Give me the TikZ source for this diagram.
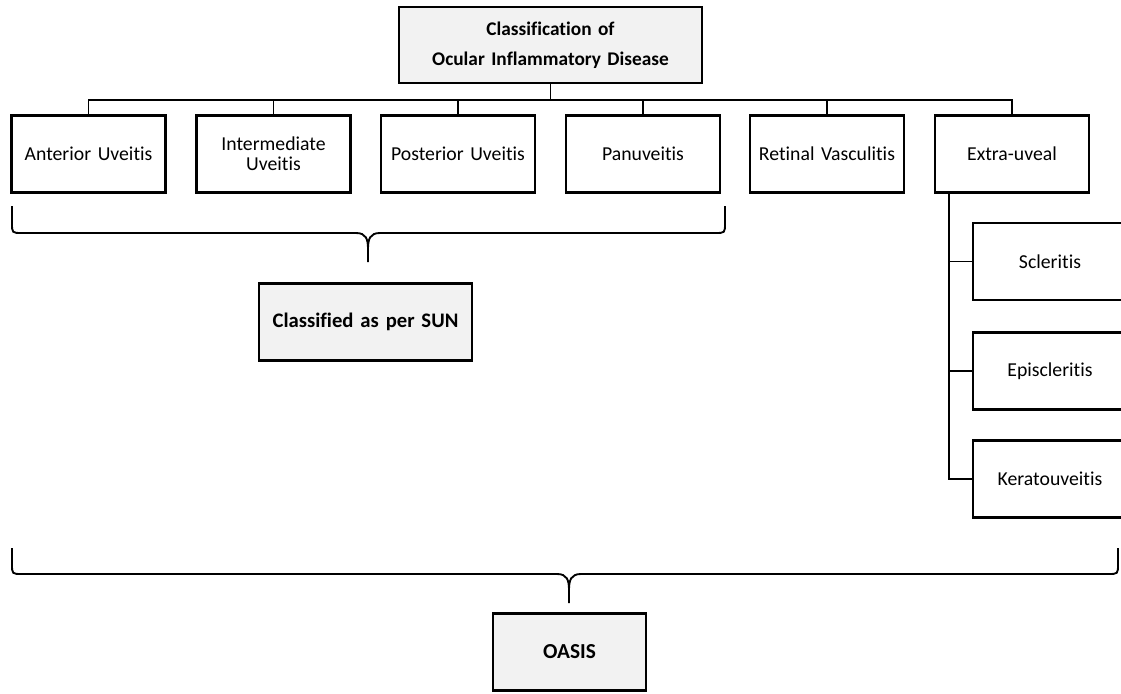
\documentclass[tikz,border=0pt]{standalone}
\usepackage{fontspec}
\setmainfont{Carlito}[Ligatures=NoCommon]
\usepackage{xcolor}
\usepackage{tikz}
\usetikzlibrary{calc}
\definecolor{boxgrey}{HTML}{F2F2F2}
\tikzset{
  catbox/.style={
    rectangle, draw=black, line width=2pt, fill=white,
    minimum width=#1, minimum height=57.75pt,
    text width=#1, align=center, inner sep=0pt,
    font=\fontsize{14.8}{15}\selectfont},
  catbox/.default=115.5pt,
  greybox/.style={
    catbox=#1, fill=boxgrey,
    font=\fontsize{14.5}{22.5}\selectfont\bfseries},
  link/.style={draw=black, line width=1.4pt},
}
% brace: left x, right x, tip x, top y, line y, tip y
\newcommand{\ocbrace}[6]{%
  \draw[link] (#1,#4) -- (#1,#5-10) .. controls (#1,#5) .. (#1+10,#5)
    -- (#3-12,#5) .. controls (#3-2,#5) and (#3,#5+6) .. (#3,#5+16) -- (#3,#6);
  \draw[link] (#2,#4) -- (#2,#5-10) .. controls (#2,#5) .. (#2-10,#5)
    -- (#3+12,#5) .. controls (#3+2,#5) and (#3,#5+6) .. (#3,#5+16);}

\begin{document}
\begin{tikzpicture}[x=0.75pt, y=-0.75pt]
  \clip (0,0) rectangle (1121,693);
  \fill[white] (0,0) rectangle (1121,693);

  \node[greybox=227.25pt, minimum height=57pt] (cls) at (550.5,45) {Classification of\\Ocular Inflammatory Disease};

  \node[catbox] (ant) at (88.5,154) {Anterior Uveitis};
  \node[catbox] (int) at (273.5,154) {Intermediate\\Uveitis};
  \node[catbox] (pos) at (458,154) {Posterior Uveitis};
  \node[catbox] (pan) at (643,154) {Panuveitis};
  \node[catbox] (ret) at (827,154) {Retinal Vasculitis};
  \node[catbox] (ext) at (1012,154) {Extra-uveal};

  \foreach \n in {ant,int,pos,pan,ret,ext}
    \draw[link] (cls.south) -- ++(0,16) -| (\n.north);

  \node[catbox] (scl) at (1050,261.5) {Scleritis};
  \node[catbox] (epi) at (1050,371) {Episcleritis};
  \node[catbox] (ker) at (1050,479) {Keratouveitis};

  \coordinate (trunk) at ($(ext.south west)+(15,0)$);
  \foreach \n in {scl,epi,ker}
    \draw[link] (trunk) |- (\n.west);

  \ocbrace{12}{725}{368}{206}{233}{262}
  \node[greybox=159.75pt, font=\fontsize{15.5}{18}\selectfont\bfseries] (sun) at (365.5,322) {Classified as per SUN};

  \ocbrace{12}{1118}{569}{548}{574}{603}
  \node[greybox=114.75pt, font=\fontsize{16}{18}\selectfont\bfseries] (oasis) at (569.5,652) {OASIS};
\end{tikzpicture}
\end{document}
